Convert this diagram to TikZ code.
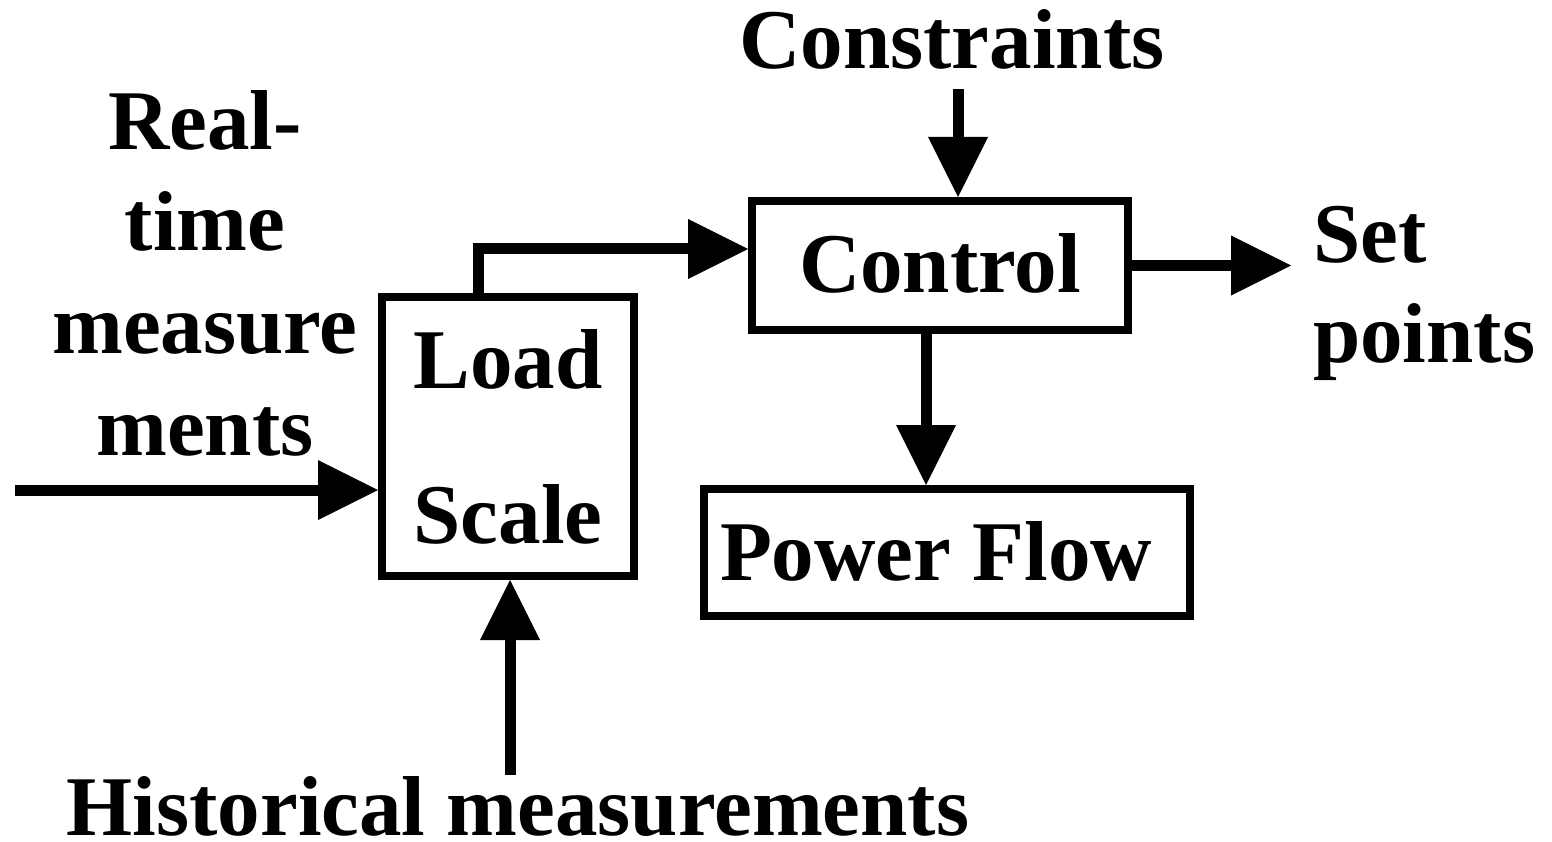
\documentclass[tikz,border=0pt]{standalone}
\usepackage{fontspec}
\setmainfont{Liberation Serif}
\usetikzlibrary{arrows.meta}
\tikzset{
  box/.style={draw, line width=8pt, inner sep=0pt},
  lbl/.style={anchor=base, inner sep=0pt, font=\fontsize{85}{100}\selectfont\bfseries},
  bigarrow/.style={line width=11pt, -{Triangle[length=60pt,width=60pt,line width=0pt]}},
}
\begin{document}
\begin{tikzpicture}[x=1pt,y=-1pt]
\useasboundingbox (0,0) rectangle (1552,842);
% boxes
\node[box, minimum width=252pt, minimum height=279pt] (load) at (508,436.5) {};
\node[box, minimum width=376pt, minimum height=129pt] (control) at (940,265.5) {};
\node[box, minimum width=486pt, minimum height=127pt] (pf) at (947,552.5) {};
% texts
\node[lbl] (loadtxt) at (508,388) {Load};
\node[lbl] (scaletxt) at (508,543) {Scale};
\node[lbl] (controltxt) at (940,293) {Control};
\node[lbl] (pftxt) at (936,580) {Power Flow};
\node[lbl] (cons) at (952,69) {Constraints};
\node[lbl] (rt1) at (205,150) {Real-};
\node[lbl] (rt2) at (205,251) {time};
\node[lbl] (rt3) at (205,353) {measure};
\node[lbl] (rt4) at (205,455) {ments};
\node[lbl, anchor=base west] (sp1) at (1313,262) {Set};
\node[lbl, anchor=base west] (sp2) at (1313,362) {points};
\node[lbl] (hist) at (518,835) {Historical measurements};
% free ends
\coordinate (inL) at (15,490);
\coordinate (histtop) at (510,775);
\coordinate (constop) at (958,89);
\coordinate (spend) at (1291,265.5);
% connectors
\draw[bigarrow] (inL) -- ([yshift=-53.5pt]load.west);
\draw[bigarrow] (histtop) -- ([xshift=2pt]load.south);
\draw[bigarrow] ([xshift=-30pt]load.north) |- ([yshift=16.5pt]control.west);
\draw[bigarrow] (constop) -- ([xshift=18pt]control.north);
\draw[bigarrow] ([xshift=-14pt]control.south) -- ([xshift=-14pt]control.south |- pf.north);
\draw[bigarrow] (control.east) -- (spend);
\end{tikzpicture}
\end{document}
